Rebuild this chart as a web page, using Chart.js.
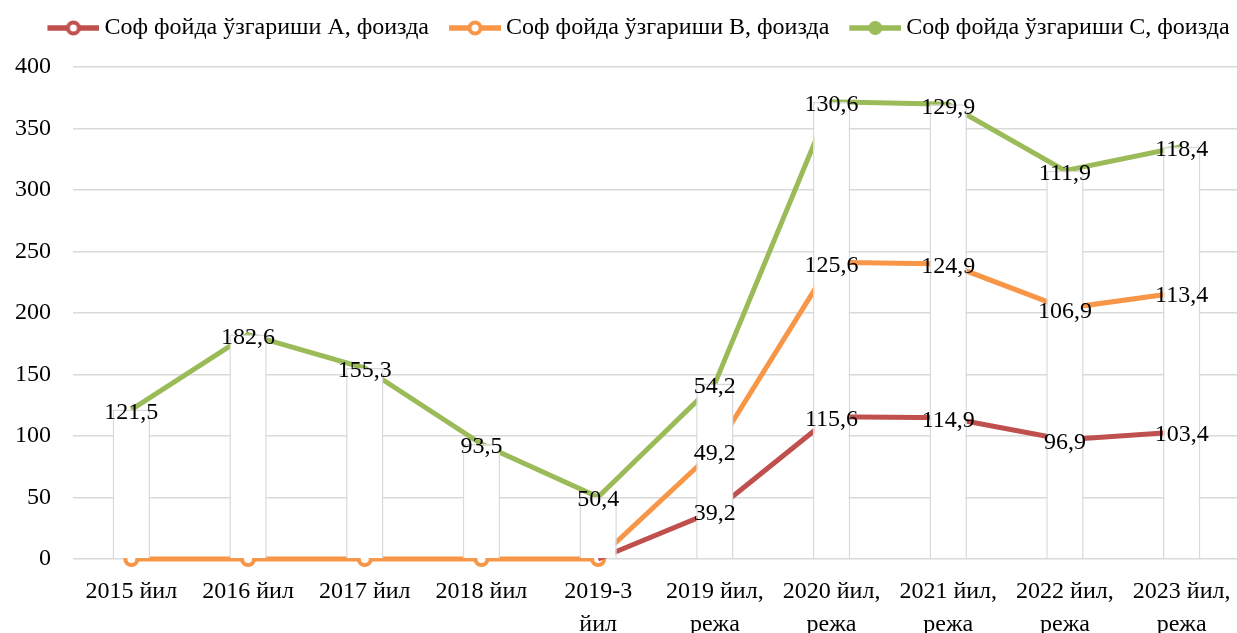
<!DOCTYPE html>
<html>
<head>
<meta charset="utf-8">
<script src="https://cdn.jsdelivr.net/npm/chart.js@4.4.1/dist/chart.umd.min.js"></script>
<style>
html,body{margin:0;padding:0;background:#fff;overflow:hidden;}
#wrap{position:absolute;left:-15px;top:0;width:1308px;height:657px;}
</style>
</head>
<body>
<div id="wrap"><canvas id="c" width="1308" height="657"></canvas></div>
<script>
const categories = ['2015 йил','2016 йил','2017 йил','2018 йил',['2019-3','йил'],['2019 йил,','режа'],['2020 йил,','режа'],['2021 йил,','режа'],['2022 йил,','режа'],['2023 йил,','режа']];
const seriesA = [0,0,0,0,0,39.2,115.6,114.9,96.9,103.4];
const seriesB = [0,0,0,0,0,49.2,125.6,124.9,106.9,113.4];
const seriesC = [121.5,182.6,155.3,93.5,50.4,54.2,130.6,129.9,111.9,118.4];
const seriesNames = ['Соф фойда ўзгариши А, фоизда','Соф фойда ўзгариши В, фоизда','Соф фойда ўзгариши С, фоизда'];
const yTicks = [0,50,100,150,200,250,300,350,400];

const colA = '#c0504d', colB = '#f79646', colC = '#9bbb59';
const FONT = '"Liberation Serif", "Times New Roman", serif';
const FS = 24;
const BOXW = 49;

// totals for the white columns behind the labels
const totals = categories.map((_, i) => seriesA[i] + seriesB[i] + seriesC[i]);

function legendIcon(color, filled){
  const W = BOXW + 14;
  const cv = document.createElement('canvas');
  cv.width = W; cv.height = 20;
  const g = cv.getContext('2d');
  const x0 = W - 52;
  g.strokeStyle = color; g.lineWidth = 5.5;
  g.beginPath(); g.moveTo(x0,10); g.lineTo(W,10); g.stroke();
  g.beginPath(); g.arc(x0 + 26,10,filled ? 7 : 5.5,0,Math.PI*2);
  g.fillStyle = filled ? color : '#fff'; g.fill();
  if (!filled) { g.lineWidth = 4; g.stroke(); }
  return cv;
}
const icons = [legendIcon(colA,false), legendIcon(colB,false), legendIcon(colC,true)];

const fmt = v => v.toFixed(1).replace('.', ',');

const valueLabels = {
  id: 'valueLabels',
  afterDatasetsDraw(chart){
    const ctx = chart.ctx;
    ctx.save();
    ctx.font = FS + 'px ' + FONT;
    ctx.fillStyle = '#000';
    ctx.textAlign = 'center';
    ctx.textBaseline = 'middle';
    [0,1,2].forEach(di => {
      const meta = chart.getDatasetMeta(di);
      const data = chart.data.datasets[di].data;
      meta.data.forEach((pt, i) => {
        if (data[i] === 0) return;
        ctx.fillText(fmt(data[i]), pt.x, pt.y + 3);
      });
    });
    ctx.restore();
  }
};

const legendTweak = {
  id: 'legendTweak',
  beforeUpdate(chart){
    const lg = chart.legend;
    if (!lg || lg._tweaked) return;
    lg._tweaked = true;
    const of = lg.fit, od = lg.draw;
    lg.fit = function(){ of.apply(this, arguments); this.height += 17; };
    lg.draw = function(){
      const ctx = this.ctx; ctx.save(); ctx.translate(20, 0);
      od.apply(this, arguments); ctx.restore();
    };
  }
};

const lineBase = {
  type: 'line', stack: 'lines', order: 1, fill: false, clip: false,
  borderWidth: 5, pointRadius: 6, pointBorderWidth: 4, pointBackgroundColor: '#fff',
  tension: 0
};

new Chart(document.getElementById('c'), {
  type: 'line',
  data: {
    labels: categories,
    datasets: [
      Object.assign({}, lineBase, {
        label: seriesNames[0], data: seriesA, borderColor: colA, pointBorderColor: colA,
        pointRadius: ctx => seriesA[ctx.dataIndex] === 0 ? 0 : 6,
        segment: { borderColor: ctx => (seriesA[ctx.p0DataIndex] === 0 && seriesA[ctx.p1DataIndex] === 0) ? 'rgba(0,0,0,0)' : colA }
      }),
      Object.assign({}, lineBase, {
        label: seriesNames[1], data: seriesB, borderColor: colB, pointBorderColor: colB
      }),
      Object.assign({}, lineBase, {
        label: seriesNames[2], data: seriesC, borderColor: colC, pointBorderColor: colC, pointBackgroundColor: colC,
        pointRadius: 0
      }),
      {
        type: 'bar', stack: 'cols', order: 0, label: 'cols', data: totals,
        backgroundColor: '#ffffff', borderColor: '#d9d9d9', borderWidth: 1.5,
        barPercentage: 0.32, categoryPercentage: 1
      }
    ]
  },
  options: {
    responsive: false,
    animation: false,
    layout: { padding: { left: 8, right: 53, top: 0, bottom: 0 } },
    plugins: {
      tooltip: { enabled: false },
      legend: {
        position: 'top',
        labels: {
          font: { family: FONT, size: FS },
          color: '#000',
          usePointStyle: true,
          pointStyleWidth: BOXW,
          padding: 16,
          filter: item => item.datasetIndex < 3,
          generateLabels: chart => [0,1,2].map(i => ({
            text: seriesNames[i], pointStyle: icons[i], datasetIndex: i,
            fillStyle: 'transparent', strokeStyle: 'transparent', lineWidth: 0, hidden: false
          }))
        }
      }
    },
    scales: {
      x: {
        stacked: true,
        grid: { display: false, drawTicks: false },
        border: { display: false },
        ticks: { font: { family: FONT, size: FS, lineHeight: 1.375 }, color: '#000', padding: 16, maxRotation: 0, autoSkip: false }
      },
      y: {
        stacked: true,
        min: 0, max: 400,
        afterBuildTicks: axis => { axis.ticks = yTicks.map(v => ({ value: v })); },
        grid: { color: '#d9d9d9', lineWidth: 1.5, drawTicks: false },
        border: { display: false },
        ticks: { font: { family: FONT, size: FS }, color: '#000', padding: 22 }
      }
    }
  },
  plugins: [valueLabels, legendTweak]
});
</script>
</body>
</html>
